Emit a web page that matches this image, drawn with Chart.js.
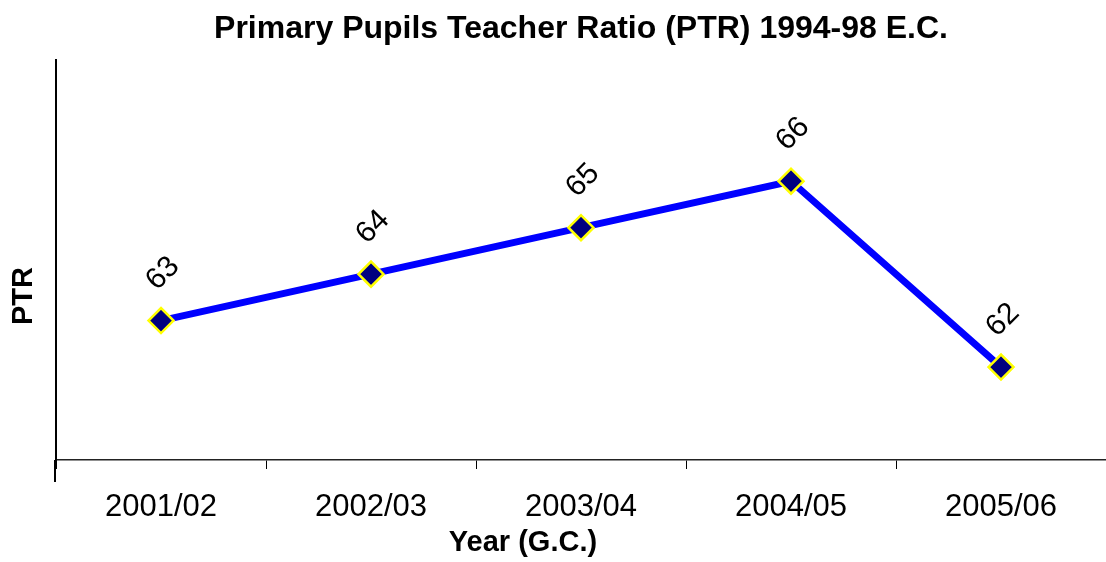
<!DOCTYPE html>
<html>
<head>
<meta charset="utf-8">
<script src="https://cdn.jsdelivr.net/npm/chart.js@4"></script>
<style>
  html, body { margin: 0; padding: 0; background: #fff; overflow: hidden; }
</style>
</head>
<body>
<canvas id="ptrChart" width="1106" height="562"></canvas>
<script>
// ===== Data =====
const years = ['2001/02', '2002/03', '2003/04', '2004/05', '2005/06'];
const ptrValues = [63, 64, 65, 66, 62];
const yRange = [60, 68.6];

const FONT = "'Liberation Sans', Arial, sans-serif";

// ===== Value labels, rotated, above each point =====
const pointLabels = {
  id: 'pointLabels',
  afterDatasetsDraw(chart) {
    const ctx = chart.ctx;
    const meta = chart.getDatasetMeta(0);
    ctx.save();
    ctx.font = "30px " + FONT;
    ctx.fillStyle = '#000';
    ctx.textAlign = 'center';
    ctx.textBaseline = 'middle';
    meta.data.forEach((pt, i) => {
      ctx.save();
      ctx.translate(pt.x + 2, pt.y - 47);
      ctx.rotate(-Math.PI / 4);
      ctx.fillText(String(Math.round(ptrValues[i])), 0, 0);
      ctx.restore();
    });
    ctx.restore();
  }
};

// ===== Axis titles + y axis line running below the category axis =====
const axisExtras = {
  id: 'axisExtras',
  afterDraw(chart) {
    const ctx = chart.ctx;
    const area = chart.chartArea;
    ctx.save();
    ctx.strokeStyle = '#000';
    ctx.lineWidth = 2;
    ctx.beginPath();
    ctx.moveTo(area.left - 1, area.bottom);
    ctx.lineTo(area.left - 1, area.bottom + 22);
    ctx.stroke();

    ctx.fillStyle = '#000';
    ctx.textAlign = 'center';
    ctx.textBaseline = 'middle';
    ctx.font = "bold 29px " + FONT;
    ctx.fillText('Year (G.C.)', (area.left + area.right) / 2 - 58, area.bottom + 83);

    ctx.translate(24, 296);
    ctx.rotate(-Math.PI / 2);
    ctx.fillText('PTR', 0, 0);
    ctx.restore();
  }
};

new Chart(document.getElementById('ptrChart'), {
  type: 'line',
  data: {
    labels: years,
    datasets: [{
      data: ptrValues,
      borderColor: '#0000FF',
      borderWidth: 7,
      tension: 0,
      pointStyle: 'rectRot',
      pointRadius: 12.5,
      pointHoverRadius: 12.5,
      pointBackgroundColor: '#000080',
      pointBorderColor: '#FFFF00',
      pointBorderWidth: 2.5
    }]
  },
  options: {
    responsive: false,
    animation: false,
    layout: { padding: 0, autoPadding: false },
    plugins: {
      legend: { display: false },
      tooltip: { enabled: false },
      title: {
        display: true,
        fullSize: false,
        text: 'Primary Pupils Teacher Ratio (PTR) 1994-98 E.C.',
        color: '#000',
        font: { family: FONT, size: 32, weight: 'bold', lineHeight: 1.2 },
        padding: { top: 10, bottom: 12 }
      }
    },
    scales: {
      x: {
        offset: true,
        afterFit: s => { s.height = 102; s.paddingLeft = 0; s.paddingRight = 0; },
        border: { display: true, color: '#222', width: 1.5 },
        grid: { display: true, drawOnChartArea: false, offset: true, tickLength: 9, color: '#000', lineWidth: 1 },
        ticks: { color: '#000', padding: 20, maxRotation: 0, font: { family: FONT, size: 31 } }
      },
      y: {
        min: yRange[0],
        max: yRange[1],
        afterFit: s => { s.width = 56; },
        border: { display: true, color: '#000', width: 2 },
        grid: { display: false },
        ticks: { display: false }
      }
    }
  },
  plugins: [pointLabels, axisExtras]
});
</script>
</body>
</html>
